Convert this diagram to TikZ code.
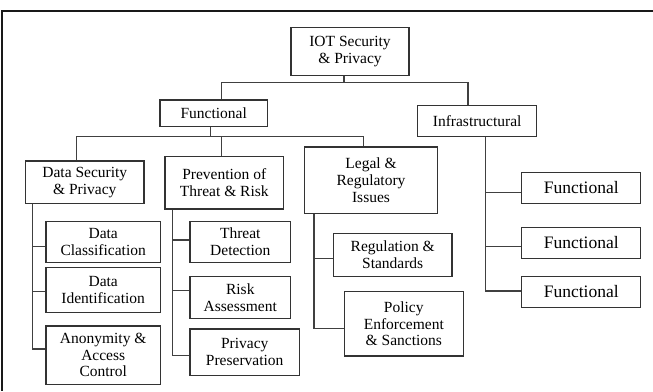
\documentclass[tikz,border=0pt]{standalone}
\usepackage{fontspec}
\setmainfont{Liberation Serif}
\begin{document}
\begin{tikzpicture}[x=1pt,y=-1pt,
  box/.style={draw=black!80, line width=1.2pt, align=center, inner sep=0pt,
    font=\fontsize{15.5}{16.7}\selectfont, text=black},
  bigbox/.style={box, font=\fontsize{17.5}{19}\selectfont},
  link/.style={draw=black!75, line width=1.2pt},
  frame/.style={draw=black!90, line width=2pt}]
\useasboundingbox (0,0) rectangle (653,391);

% outer frame (top and left edges)
\draw[frame] (653,11) -- (2,11) -- (2,391);

% boxes
\node[box, minimum width=118pt, minimum height=48pt] (root) at (350,51.3) {IOT Security\\\& Privacy};
\node[box, minimum width=107.3pt, minimum height=26.3pt] (func) at (213.7,113.2) {Functional};
\node[box, minimum width=119pt, minimum height=30.6pt] (infra) at (477.2,121) {Infrastructural};

\node[box, minimum width=118.3pt, minimum height=42.3pt] (dsp) at (84.8,182.2) {Data Security\\\& Privacy};
\node[box, minimum width=118.7pt, minimum height=52.7pt] (ptr) at (224.3,182.7) {Prevention of\\Threat \& Risk};
\node[box, minimum width=132.6pt, minimum height=66.3pt] (lri) at (371,180.2) {Legal \&\\Regulatory\\Issues};

\node[box, minimum width=114.3pt, minimum height=40.6pt] (dc) at (103.2,242) {Data\\Classification};
\node[box, minimum width=114.3pt, minimum height=45.4pt] (di) at (103.2,290) {Data\\Identification};
\node[box, minimum width=114.3pt, minimum height=58.3pt] (aac) at (103.2,355.2) {Anonymity \&\\Access\\Control};

\node[box, minimum width=100.7pt, minimum height=40.6pt] (td) at (240.3,242) {Threat\\Detection};
\node[box, minimum width=100.7pt, minimum height=41.6pt] (ra) at (240.3,297.5) {Risk\\Assessment};
\node[box, minimum width=109.3pt, minimum height=46.3pt] (pp) at (244.7,352.2) {Privacy\\Preservation};

\node[box, minimum width=118.7pt, minimum height=43pt] (rs) at (392.7,254.8) {Regulation \&\\Standards};
\node[box, minimum width=119pt, minimum height=64.3pt] (pe) at (403.8,323.8) {Policy\\Enforcement\\\& Sanctions};

\node[bigbox, minimum width=119pt, minimum height=30.6pt] (f1) at (581.2,188) {Functional};
\node[bigbox, minimum width=119pt, minimum height=31pt] (f2) at (581.2,242.8) {Functional};
\node[bigbox, minimum width=119pt, minimum height=30.6pt] (f3) at (581.2,292) {Functional};

% bus junctions and spines
\coordinate (b0) at (344,82.7);
\coordinate (b1) at (210.7,136.3);
\coordinate (sd) at (32.3,0);
\coordinate (sp) at (172.3,0);
\coordinate (sl) at (314,0);
\coordinate (si) at (485.7,0);

% top level
\draw[link] ([xshift=-6pt]root.south) -- (b0);
\draw[link] ([xshift=8pt]func.north) |- (b0) -| ([xshift=-9.2pt]infra.north);

% functional branch
\draw[link] ([xshift=-3pt]func.south) -- (b1);
\draw[link] ([xshift=-8.5pt]dsp.north) |- (b1) -| ([xshift=-7.7pt]lri.north);
\draw[link] ([xshift=-2.6pt]ptr.north) -- ([xshift=-2.6pt]ptr.north |- b1);

% data security & privacy
\draw[link] (dsp.south -| sd) |- ([yshift=6.2pt]aac.west);
\draw[link] ([yshift=-4.7pt]dc.west) -- ([yshift=-4.7pt]dc.west -| sd);
\draw[link] ([yshift=-1.7pt]di.west) -- ([yshift=-1.7pt]di.west -| sd);

% prevention of threat & risk
\draw[link] (ptr.south -| sp) |- ([yshift=-3.5pt]pp.west);
\draw[link] ([yshift=2pt]td.west) -- ([yshift=2pt]td.west -| sp);
\draw[link] ([yshift=6.8pt]ra.west) -- ([yshift=6.8pt]ra.west -| sp);

% legal & regulatory issues
\draw[link] (lri.south -| sl) |- ([yshift=-4.5pt]pe.west);
\draw[link] ([yshift=-3.5pt]rs.west) -- ([yshift=-3.5pt]rs.west -| sl);

% infrastructural
\draw[link] ([xshift=8.5pt]infra.south) |- ([yshift=1pt]f3.west);
\draw[link] ([yshift=-4.7pt]f1.west) -- ([yshift=-4.7pt]f1.west -| si);
\draw[link] ([yshift=-3.9pt]f2.west) -- ([yshift=-3.9pt]f2.west -| si);
\end{tikzpicture}
\end{document}
